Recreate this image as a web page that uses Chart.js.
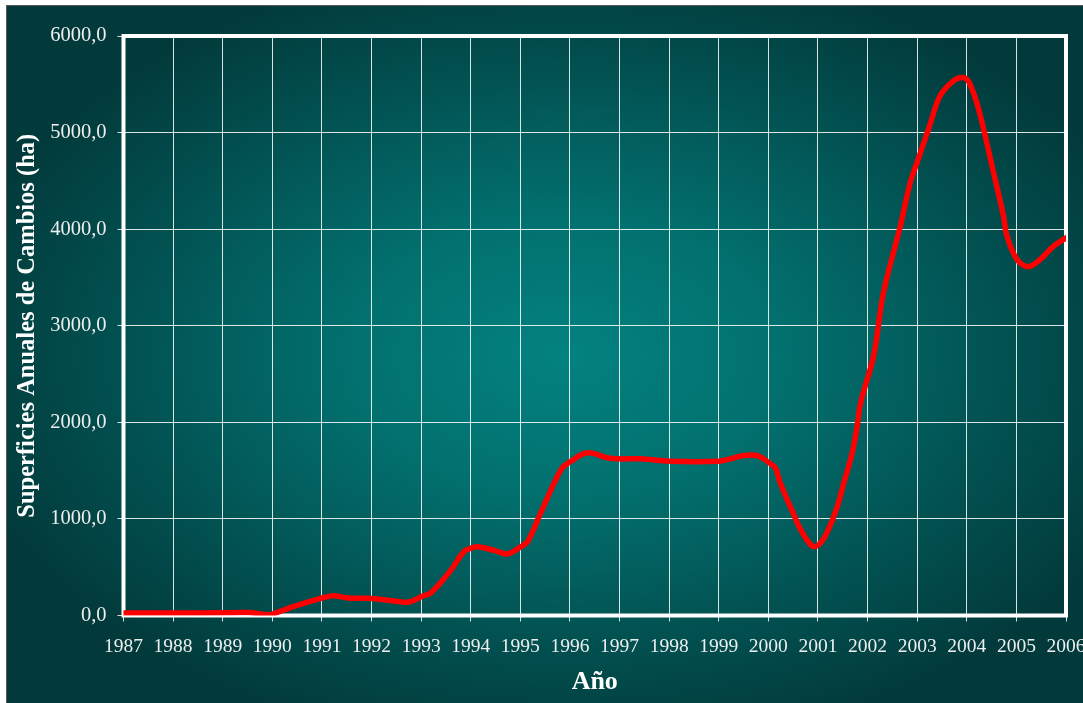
<!DOCTYPE html>
<html>
<head>
<meta charset="utf-8">
<script src="https://cdn.jsdelivr.net/npm/chart.js@4.4.1/dist/chart.umd.min.js"></script>
<style>
  html, body { margin: 0; padding: 0; background: #ffffff; }
  #wrap { width: 1083px; height: 703px; }
</style>
</head>
<body>
<div id="wrap"><canvas id="c" width="1083" height="703"></canvas></div>
<script>
// ---- data ----
const years = [
  1987.0, 1988.0, 1989.0, 1989.52, 1989.92, 1990.0, 1990.5, 1991.03, 1991.23, 1991.53,
  1992.0, 1992.5, 1992.76, 1993.02, 1993.2, 1993.6, 1993.86, 1994.02, 1994.17, 1994.47,
  1994.74, 1995.0, 1995.15, 1995.41, 1995.82, 1996.02, 1996.35, 1996.76, 1997.0, 1997.43,
  1998.02, 1999.0, 1999.24, 1999.5, 1999.78, 1999.99, 2000.14, 2000.24, 2000.5, 2000.65,
  2000.85, 2000.95, 2001.05, 2001.18, 2001.39, 2001.52, 2001.69, 2001.79, 2001.86, 2002.12,
  2002.32, 2002.66, 2002.86, 2003.02, 2003.26, 2003.46, 2003.73, 2003.9, 2004.03, 2004.2,
  2004.34, 2004.54, 2004.74, 2004.81, 2005.01, 2005.24, 2005.48, 2005.75, 2006.0
];
const superficies = [
  25, 25, 28, 30, 8, 15, 105, 185, 205, 180,
  177, 148, 140, 200, 236, 470, 660, 700, 710, 675,
  637, 710, 768, 1062, 1511, 1597, 1684, 1632, 1622, 1622,
  1597, 1597, 1622, 1656, 1655, 1590, 1528, 1373, 1060, 889,
  734, 716, 751, 855, 1131, 1373, 1684, 1960, 2202, 2685,
  3342, 4032, 4482, 4723, 5086, 5379, 5535, 5570, 5535, 5311,
  5034, 4585, 4136, 3929, 3687, 3611, 3687, 3825, 3910
];
const xTickLabels = ['1987','1988','1989','1990','1991','1992','1993','1994','1995','1996',
  '1997','1998','1999','2000','2001','2002','2003','2004','2005','2006'];
const yTickLabels = ['0,0','1000,0','2000,0','3000,0','4000,0','5000,0','6000,0'];
const xTitle = 'Año';
const yTitle = 'Superficies Anuales de Cambios (ha)';

const points = years.map((x, i) => ({ x: x, y: superficies[i] }));

const bgPlugin = {
  id: 'bg',
  beforeDraw(chart) {
    const ctx = chart.ctx;
    const W = chart.width, H = chart.height;
    ctx.save();
    ctx.fillStyle = '#ffffff';
    ctx.fillRect(0, 0, W, H);
    const cx = 565, cy = 355, rx = 620, ry = 400;
    ctx.save();
    ctx.beginPath();
    ctx.rect(7, 6, W - 7, H - 6);
    ctx.clip();
    ctx.translate(cx, cy);
    ctx.scale(rx / ry, 1);
    const g = ctx.createRadialGradient(0, 0, 0, 0, 0, ry);
    g.addColorStop(0, '#038280');
    g.addColorStop(0.35, '#02706e');
    g.addColorStop(0.7, '#025252');
    g.addColorStop(1, '#023a3b');
    ctx.fillStyle = g;
    ctx.fillRect(-cx * ry / rx - 10, -cy - 10, W * ry / rx + 40, H + 40);
    ctx.restore();
    ctx.strokeStyle = '#5a5a5a';
    ctx.lineWidth = 1;
    ctx.strokeRect(6.5, 5.5, W, H);
    ctx.restore();
  },
  beforeDatasetsDraw(chart) {
    const a = chart.chartArea;
    const ctx = chart.ctx;
    ctx.save();
    ctx.strokeStyle = '#ffffff';
    ctx.lineWidth = 4;
    ctx.strokeRect(a.left, a.top, a.right - a.left, a.bottom - a.top);
    ctx.restore();
  }
};

new Chart(document.getElementById('c'), {
  type: 'line',
  data: {
    datasets: [{
      data: points,
      borderColor: '#ff0000',
      borderWidth: 5.5,
      pointRadius: 0,
      tension: 0.35,
      fill: false,
      borderCapStyle: 'round',
      borderJoinStyle: 'round'
    }]
  },
  options: {
    responsive: false,
    animation: false,
    devicePixelRatio: 1,
    layout: { padding: { left: 0, top: 36, right: 17, bottom: 0 } },
    plugins: { legend: { display: false }, tooltip: { enabled: false } },
    scales: {
      x: {
        type: 'linear',
        min: 1987, max: 2006,
        afterFit(s) { s.height = 87.5; s.paddingLeft = 0; s.paddingRight = 0; },
        afterBuildTicks(s) { s.ticks = xTickLabels.map((_, i) => ({ value: 1987 + i })); },
        ticks: {
          autoSkip: false, maxRotation: 0, padding: 14,
          color: '#eeeeee',
          font: { family: "'Liberation Serif', 'Times New Roman', serif", size: 19.5 },
          callback: (v) => xTickLabels[Math.round(v) - 1987]
        },
        grid: { color: 'rgba(255,255,255,0.85)', lineWidth: 1, tickLength: 6, drawTicks: true },
        border: { display: false },
        title: {
          display: true, text: xTitle, color: '#ffffff',
          font: { family: "'Liberation Serif', 'Times New Roman', serif", size: 26, weight: 'bold' },
          padding: { top: 4, bottom: 5 }
        }
      },
      y: {
        min: 0, max: 6000,
        afterFit(s) { s.width = 123.5; },
        afterBuildTicks(s) { s.ticks = yTickLabels.map((_, i) => ({ value: i * 1000 })); },
        ticks: {
          padding: 11,
          color: '#eeeeee',
          font: { family: "'Liberation Serif', 'Times New Roman', serif", size: 20.5 },
          callback: (v) => yTickLabels[Math.round(v / 1000)]
        },
        grid: { color: 'rgba(255,255,255,0.85)', lineWidth: 1, tickLength: 6, drawTicks: true },
        border: { display: false },
        title: {
          display: true, text: yTitle, color: '#ffffff',
          font: { family: "'Liberation Serif', 'Times New Roman', serif", size: 24.5, weight: 'bold' },
          padding: { top: 13, bottom: 4 }
        }
      }
    }
  },
  plugins: [bgPlugin]
});
</script>
</body>
</html>
